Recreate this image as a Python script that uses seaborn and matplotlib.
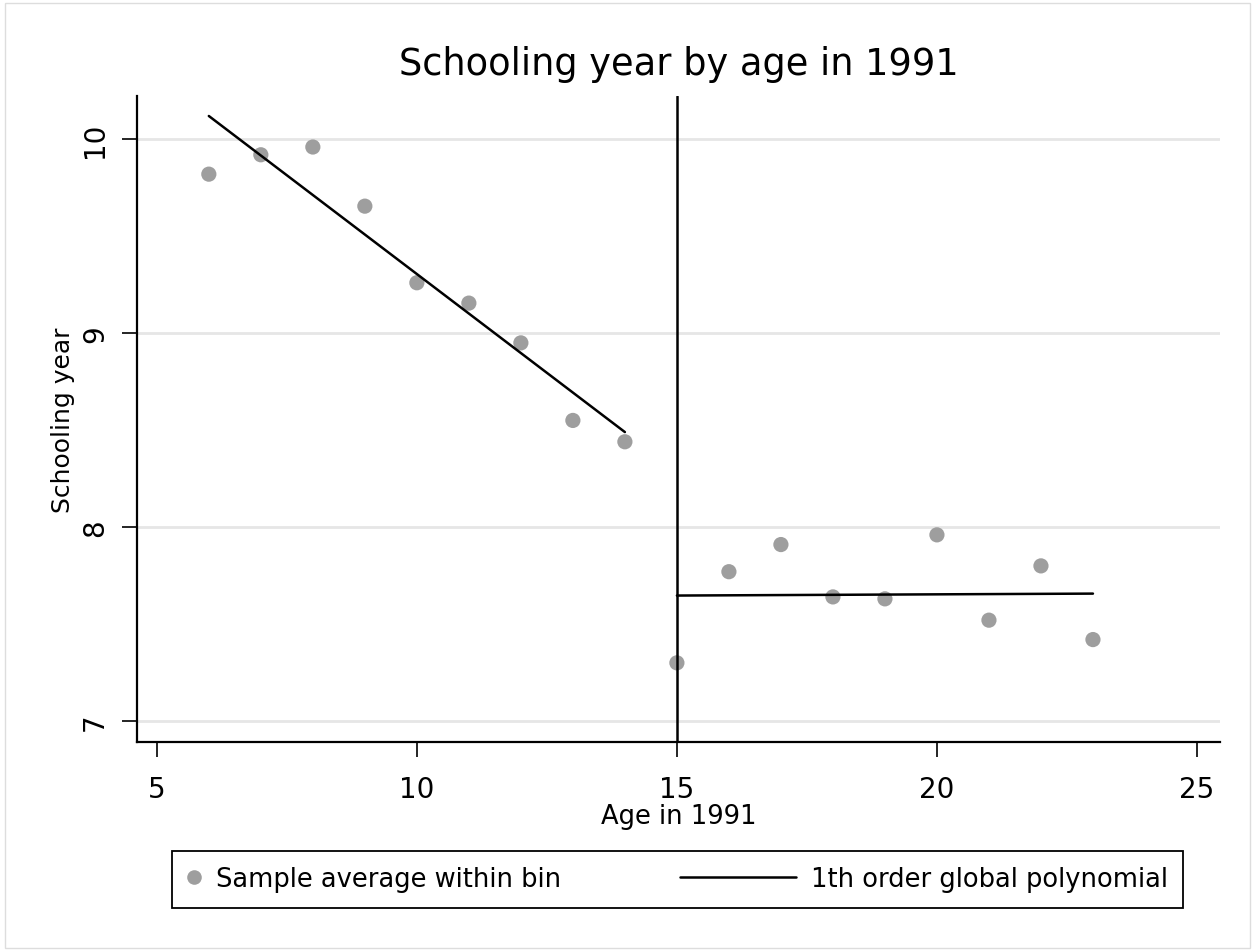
import numpy as np
import pandas as pd
import matplotlib
matplotlib.use('Agg')
import matplotlib.pyplot as plt
import seaborn as sns
from matplotlib.lines import Line2D
from matplotlib.patches import Rectangle
from matplotlib.legend_handler import HandlerLine2D

# bin averages
ages = [6, 7, 8, 9, 10, 11, 12, 13, 14, 15, 16, 17, 18, 19, 20, 21, 22, 23]
schooling = [9.82, 9.92, 9.96, 9.655, 9.26, 9.155, 8.95, 8.55, 8.44,
             7.30, 7.77, 7.91, 7.64, 7.63, 7.96, 7.52, 7.80, 7.42]

# fitted 1st order polynomial on each side of the cutoff
fit_left_x = [6, 14]
fit_left_y = [10.12, 8.49]
fit_right_x = [15, 23]
fit_right_y = [7.647, 7.657]

cutoff = 15
x_ticks = [5, 10, 15, 20, 25]
y_ticks = [7, 8, 9, 10]

bins = pd.DataFrame({'age': ages, 'school': schooling})
fit = pd.DataFrame({
    'age': fit_left_x + fit_right_x,
    'school': fit_left_y + fit_right_y,
    'side': ['left'] * 2 + ['right'] * 2,
})

sns.set_theme(style='white')
plt.rcParams['font.family'] = ['DejaVu Sans']
plt.rcParams['text.color'] = 'black'
plt.rcParams['axes.labelcolor'] = 'black'

fig = plt.figure(figsize=(12.55, 9.53), dpi=100)
ax = fig.add_axes([0.109, 0.2204, 0.863, 0.6776])

GRAY = '#9e9e9e'
sns.scatterplot(data=bins, x='age', y='school', ax=ax, color=GRAY, s=120,
                edgecolor='none', zorder=3)
sns.lineplot(data=fit, x='age', y='school', units='side', estimator=None,
             ax=ax, color='black', lw=1.8, zorder=4)
ax.axvline(cutoff, color='black', lw=1.8, zorder=4)

ax.set_xlim(4.615, 25.44)
ax.set_ylim(6.892, 10.222)
ax.set_xticks(x_ticks)
ax.set_yticks(y_ticks)
ax.set_yticklabels([str(v) for v in y_ticks], rotation=90, va='center')
for yv in y_ticks:
    ax.axhline(yv, color='#e6e6e6', lw=2, zorder=1)

ax.tick_params(axis='both', which='both', direction='out', length=11,
               width=1.2, colors='black', labelsize=20, bottom=True, left=True)
ax.tick_params(axis='x', pad=13)
ax.tick_params(axis='y', pad=9)
for side in ['top', 'right']:
    ax.spines[side].set_visible(False)
for side in ['left', 'bottom']:
    ax.spines[side].set_color('black')
    ax.spines[side].set_linewidth(1.6)

ax.set_xlabel('Age in 1991', fontsize=18.5, labelpad=0)
ax.set_ylabel('Schooling year', fontsize=18, labelpad=4)
ax.set_title('Schooling year by age in 1991', fontsize=26.5, pad=16)


class LongLine(HandlerLine2D):
    # line sample that reaches further left than the handle box
    def get_xdata(self, legend, xdescent, ydescent, width, height, fontsize):
        xdata = np.array([-xdescent - 4.0 * fontsize, width - xdescent])
        return xdata, xdata[-1:]


h_dot = Line2D([], [], ls='none', marker='o', ms=10.5, color=GRAY, mec='none')
h_line = Line2D([], [], color='black', lw=1.8)
leg = fig.legend([h_dot, h_line],
                 ['Sample average within bin', '1th order global polynomial'],
                 handler_map={h_line: LongLine()},
                 loc='center', bbox_to_anchor=(0.137, 0.045, 0.806, 0.063),
                 mode='expand', ncol=2, fontsize=18.5, handlelength=0.5,
                 handletextpad=0.6, borderpad=0.6, borderaxespad=0,
                 frameon=True, fancybox=False, edgecolor='black', framealpha=1)
leg.get_frame().set_linewidth(1.3)

fig.patches.append(Rectangle((0.004, 0.004), 0.992, 0.992, transform=fig.transFigure,
                             fill=False, edgecolor='#dddddd', lw=1))

fig.savefig('out.png', dpi=100, facecolor='white')
